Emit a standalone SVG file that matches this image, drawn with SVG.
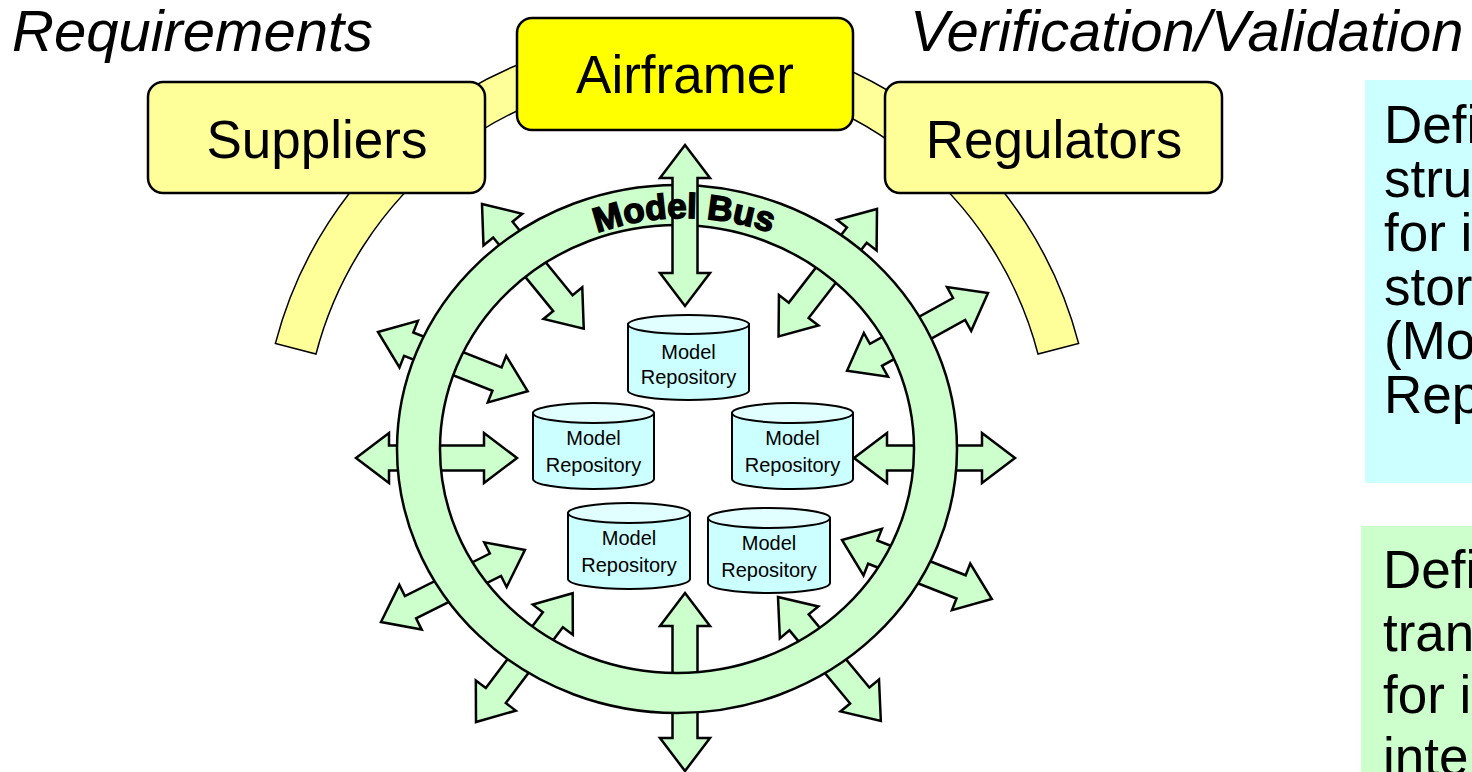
<svg xmlns="http://www.w3.org/2000/svg" width="1472" height="772" viewBox="0 0 1472 772">
  <style>
    .box-lt { fill: #ffff99; stroke: #000; stroke-width: 2.5; }
    .box-hi { fill: #ffff00; stroke: #000; stroke-width: 2.5; }
    .box-label { font-family: "Liberation Sans", Arial, sans-serif; font-size: 53px; fill: #000; text-anchor: middle; }
    .band { fill: #ffff99; stroke: #000; stroke-width: 1.5; }
    .arrow { fill: #ccffcc; stroke: #000; stroke-width: 2.5; stroke-linejoin: miter; }
    .ring { fill: #ccffcc; stroke: #000; stroke-width: 2.5; fill-rule: evenodd; }
    .bus-label { font-family: "Liberation Sans", Arial, sans-serif; font-size: 35px; font-weight: bold; fill: #000; stroke: #000; stroke-width: 1.5; text-anchor: middle; }
    .cyl-body { fill: #ccffff; stroke: #000; stroke-width: 2; }
    .cyl-top { fill: #e2ffff; stroke: #000; stroke-width: 2; }
    .cyl-label { font-family: "Liberation Sans", Arial, sans-serif; font-size: 20px; fill: #000; text-anchor: middle; }
    .phase { font-family: "Liberation Sans", Arial, sans-serif; font-size: 58px; font-style: italic; fill: #000; }
    .note { font-family: "Liberation Sans", Arial, sans-serif; font-size: 53px; fill: #000; }
  </style>
  <defs>
    <!-- double-headed block arrows, laid along +x from the origin -->
    <path id="dbl161" d="M0,0 L33,-25 L33,-12.5 L128,-12.5 L128,-25 L161,0 L128,25 L128,12.5 L33,12.5 L33,25 Z"/>
    <path id="dbl178" d="M0,0 L33,-25 L33,-12.5 L145,-12.5 L145,-25 L178,0 L145,25 L145,12.5 L33,12.5 L33,25 Z"/>
    <!-- baseline for the bus caption -->
    <path id="busArc" d="M439,449 A245,231 0 0 1 929,449"/>
  </defs>

  <!-- stakeholder band linking the three parties -->
  <g id="connectors-band">
    <path class="band" d="M275.4,343.4 A415,415 0 0 1 1078.6,343.4 L1038,354 A373,373 0 0 0 316,354 Z"/>
  </g>

  <g id="suppliers">
    <rect class="box-lt" x="148" y="82" width="337" height="111" rx="15"/>
    <text class="box-label" x="317" y="158">Suppliers</text>
  </g>
  <g id="regulators">
    <rect class="box-lt" x="885" y="82" width="337" height="111" rx="15"/>
    <text class="box-label" x="1054" y="158">Regulators</text>
  </g>
  <g id="airframer">
    <rect class="box-hi" x="517" y="18" width="336" height="112" rx="15"/>
    <text class="box-label" x="685" y="93">Airframer</text>
  </g>

  <!-- exchange arrows through the bus -->
  <g id="connectors">
    <use href="#dbl161" class="arrow" transform="translate(356,458)"/>
    <use href="#dbl161" class="arrow" transform="translate(854,458)"/>
    <use href="#dbl178" class="arrow" transform="translate(685,593) rotate(90)"/>
    <use href="#dbl161" class="arrow" transform="translate(482,204) rotate(50.8)"/>
    <use href="#dbl161" class="arrow" transform="translate(877,209) rotate(127.7)"/>
    <use href="#dbl161" class="arrow" transform="translate(378,332) rotate(21.6)"/>
    <use href="#dbl161" class="arrow" transform="translate(988,293) rotate(151.1)"/>
    <use href="#dbl161" class="arrow" transform="translate(381,622) rotate(-26.6)"/>
    <use href="#dbl161" class="arrow" transform="translate(476,722) rotate(-53.1)"/>
    <use href="#dbl161" class="arrow" transform="translate(842,540) rotate(21.5)"/>
    <use href="#dbl161" class="arrow" transform="translate(778,597) rotate(50.3)"/>
  </g>

  <g id="model-bus">
    <path class="ring" d="M397,449 A280,264 0 1 0 957,449 A280,264 0 1 0 397,449 Z M440,449 A237,224 0 1 0 914,449 A237,224 0 1 0 440,449 Z"/>
  </g>

  <g id="connector-top">
    <use href="#dbl161" class="arrow" transform="translate(685,145) rotate(90)"/>
  </g>

  <g id="model-bus-label">
    <text class="bus-label"><textPath href="#busArc" startOffset="50%">Model Bus</textPath></text>
  </g>

  <!-- model repositories -->
  <g id="repo-top">
    <path class="cyl-body" d="M628,324 V390.5 A60.5,9.5 0 0 0 749,390.5 V324 Z"/>
    <ellipse class="cyl-top" cx="688.5" cy="324.5" rx="60.5" ry="9.5"/>
    <text class="cyl-label" x="688.5" y="359">Model</text>
    <text class="cyl-label" x="688.5" y="384">Repository</text>
  </g>
  <g id="repo-mid-left">
    <path class="cyl-body" d="M533,413 V479 A60.5,10 0 0 0 654,479 V413 Z"/>
    <ellipse class="cyl-top" cx="593.5" cy="413" rx="60.5" ry="10"/>
    <text class="cyl-label" x="593.5" y="445">Model</text>
    <text class="cyl-label" x="593.5" y="472">Repository</text>
  </g>
  <g id="repo-mid-right">
    <path class="cyl-body" d="M732,413 V479 A60.5,10 0 0 0 853,479 V413 Z"/>
    <ellipse class="cyl-top" cx="792.5" cy="413" rx="60.5" ry="10"/>
    <text class="cyl-label" x="792.5" y="445">Model</text>
    <text class="cyl-label" x="792.5" y="472">Repository</text>
  </g>
  <g id="repo-low-left">
    <path class="cyl-body" d="M568,513 V579 A61,10 0 0 0 690,579 V513 Z"/>
    <ellipse class="cyl-top" cx="629" cy="513" rx="61" ry="10"/>
    <text class="cyl-label" x="629" y="545">Model</text>
    <text class="cyl-label" x="629" y="572">Repository</text>
  </g>
  <g id="repo-low-right">
    <path class="cyl-body" d="M708,518 V583 A61,10 0 0 0 830,583 V518 Z"/>
    <ellipse class="cyl-top" cx="769" cy="518" rx="61" ry="10"/>
    <text class="cyl-label" x="769" y="550">Model</text>
    <text class="cyl-label" x="769" y="577">Repository</text>
  </g>

  <!-- side notes -->
  <g id="note-structure">
    <rect x="1365" y="80" width="120" height="403" fill="#ccffff"/>
    <text class="note" x="1384" y="143">Defi</text>
    <text class="note" x="1384" y="197">stru</text>
    <text class="note" x="1384" y="251">for i</text>
    <text class="note" x="1384" y="305">stor</text>
    <text class="note" x="1384" y="359">(Mo</text>
    <text class="note" x="1384" y="413">Rep</text>
  </g>
  <g id="note-transform">
    <rect x="1361" y="526" width="124" height="260" fill="#ccffcc"/>
    <text class="note" x="1383" y="588">Defi</text>
    <text class="note" x="1383" y="651">tran</text>
    <text class="note" x="1383" y="713">for i</text>
    <text class="note" x="1383" y="775">inte</text>
  </g>

  <g id="phase-labels">
    <text class="phase" x="12" y="51">Requirements</text>
    <text class="phase" x="910" y="51">Verification/Validation</text>
  </g>
</svg>
